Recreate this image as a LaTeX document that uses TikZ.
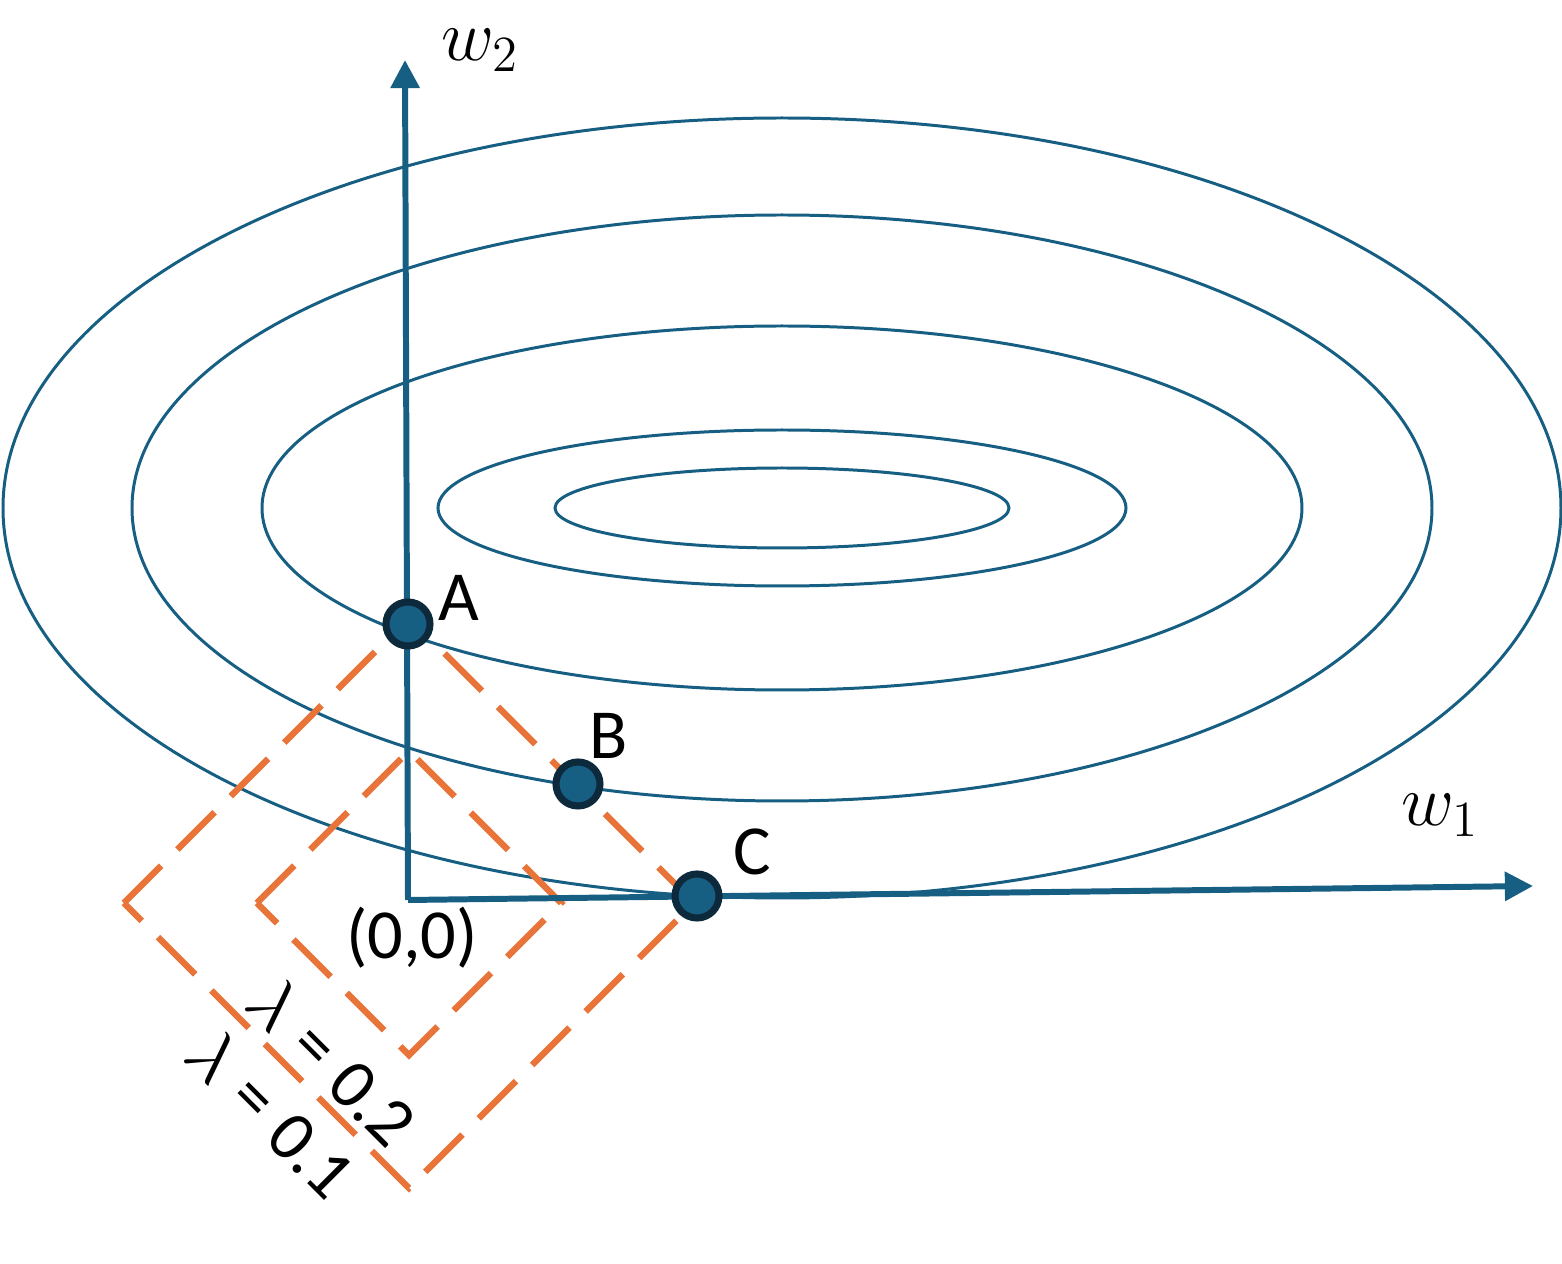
\documentclass[tikz,border=0pt]{standalone}
\usepackage{amsmath}
\usepackage{fontspec}
\setmainfont{Carlito}
\usepackage{xcolor}
\usetikzlibrary{arrows.meta,positioning}

\definecolor{axisblue}{HTML}{175E83}
\definecolor{dotrim}{HTML}{0C2A3B}
\definecolor{ridge}{HTML}{E8743A}

\begin{document}
\begin{tikzpicture}[x=0.01cm,y=-0.01cm,>={Triangle[length=8pt,width=8pt]}]
\tikzstyle{contour}=[draw=axisblue,line width=0.85pt]
\tikzstyle{axis}=[draw=axisblue,line width=1.7pt,->,color=axisblue]
\tikzstyle{ball}=[circle,fill=axisblue,draw=dotrim,line width=2pt,minimum size=0.44cm,inner sep=0pt]
\tikzstyle{lbl}=[font=\fontsize{20}{24}\selectfont,inner sep=1pt]
\tikzstyle{penalty}=[draw=ridge,line width=1.8pt,dash pattern=on 15pt off 6.5pt]
\useasboundingbox (0,0) rectangle (1562,1264);
% loss contours
\coordinate (M) at (782,508);
\draw[contour] (M) ellipse [x radius=779,y radius=390];
\draw[contour] (M) ellipse [x radius=650,y radius=293];
\draw[contour] (M) ellipse [x radius=520,y radius=182];
\draw[contour] (M) ellipse [x radius=344,y radius=78];
\draw[contour] (M) ellipse [x radius=227,y radius=40];
% constraint regions
\coordinate (O) at (409,903);
\draw[penalty] ([xshift=-2.85cm]O) -- ([yshift=2.85cm]O) -- ([xshift=2.85cm]O) -- ([yshift=-2.85cm]O) -- cycle;
\draw[penalty] ([xshift=-1.52cm]O) -- ([yshift=1.52cm]O) -- ([xshift=1.52cm]O) -- ([yshift=-1.52cm]O) -- cycle;
% axes
\coordinate (origin) at (408,900);
\coordinate (top) at (405,60);
\coordinate (right) at (1533,886);
\draw[axis] (origin) -- (top);
\draw[axis] (origin) -- (right);
\node[lbl] (w2) at (480,50) {$w_2$};
\node[lbl] (w1) at (1440,815) {$w_1$};
\node[lbl] (zero) at (412,938) {(0,0)};
% solutions
\node[ball] (A) at (408,624) {};
\node[ball] (B) at (578,784) {};
\node[ball] (C) at (697,896) {};
\node[lbl] (Alab) at (459,598) {A};
\node[lbl] (Blab) at (609,736) {B};
\node[lbl] (Clab) at (752,852) {C};
\node[lbl,rotate=-45] (l2) at (333,1061) {$\lambda$\;=\;0.2};
\node[lbl,rotate=-45] (l1) at (272,1113) {$\lambda$\;=\;0.1};
\end{tikzpicture}
\end{document}
